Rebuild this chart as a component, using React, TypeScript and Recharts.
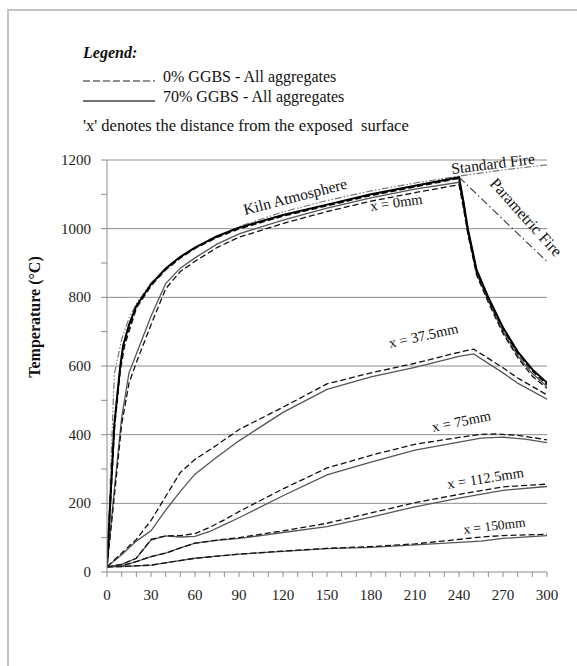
import React from 'react'
import { LineChart, Line, XAxis, YAxis, ReferenceLine } from 'recharts'

type Pt = { t: number; v: number }
const pts = (rows: number[][]): Pt[] => rows.map(([t, v]) => ({ t, v }))

// time (min) vs temperature (°C)
const KILN_70 = pts([
  [0, 20], [5, 430], [9, 598], [11, 660], [15, 720], [20, 775], [30, 838], [40, 884], [50, 918],
  [60, 945], [75, 978], [90, 1003], [120, 1040], [150, 1070], [180, 1100], [210, 1125], [240, 1150],
  [243, 1080], [246, 1000], [252, 880], [260, 800], [270, 712], [280, 642], [290, 590], [300, 551],
])
const KILN_0 = pts([
  [0, 20], [5, 420], [9, 590], [12, 662], [20, 770], [30, 834], [40, 881], [50, 915],
  [60, 943], [75, 975], [90, 1000], [120, 1037], [150, 1067], [180, 1097], [210, 1122], [240, 1147],
  [243, 1075], [246, 996], [252, 876], [260, 796], [270, 708], [280, 638], [290, 586], [300, 546],
])
const MM0_70 = pts([
  [0, 15], [5, 240], [10, 450], [15, 580], [20, 635], [30, 745], [40, 840], [50, 885], [60, 915],
  [75, 955], [90, 985], [120, 1025], [150, 1060], [180, 1090], [210, 1115], [240, 1135],
  [243, 1070], [246, 990], [252, 870], [260, 790], [270, 700], [280, 630], [290, 578], [300, 540],
])
const MM0_0 = pts([
  [0, 15], [5, 220], [10, 430], [15, 550], [20, 610], [30, 720], [40, 825], [50, 875], [60, 905],
  [75, 945], [90, 975], [120, 1015], [150, 1050], [180, 1080], [210, 1105], [240, 1128],
  [243, 1060], [246, 985], [252, 865], [260, 785], [270, 695], [280, 625], [290, 570], [300, 535],
])
const MM375_70 = pts([
  [0, 15], [10, 50], [20, 90], [30, 120], [40, 180], [50, 235], [60, 285], [75, 335], [90, 382],
  [120, 465], [150, 532], [180, 568], [210, 596], [240, 628], [250, 635], [270, 580], [280, 550], [300, 503],
])
const MM375_0 = pts([
  [0, 15], [10, 55], [20, 95], [30, 150], [40, 220], [50, 290], [60, 328], [75, 370], [90, 415],
  [120, 480], [150, 548], [180, 580], [210, 608], [240, 640], [250, 649], [270, 595], [280, 565], [300, 516],
])
const MM75_70 = pts([
  [0, 15], [10, 22], [20, 40], [30, 93], [40, 105], [50, 102], [60, 104], [70, 118], [80, 138],
  [90, 158], [120, 222], [150, 283], [180, 320], [210, 355], [240, 378], [255, 390], [270, 393],
  [285, 387], [300, 377],
])
const MM75_0 = pts([
  [0, 15], [10, 22], [20, 40], [30, 95], [40, 105], [50, 106], [60, 112], [70, 130], [80, 152],
  [90, 176], [120, 242], [150, 303], [180, 340], [210, 372], [240, 392], [255, 401], [265, 402],
  [280, 398], [300, 385],
])
const MM1125_70 = pts([
  [0, 15], [10, 18], [20, 30], [30, 45], [40, 55], [50, 70], [60, 84], [75, 92], [90, 98],
  [105, 106], [120, 115], [150, 132], [180, 160], [210, 190], [240, 215], [270, 238], [300, 249],
])
const MM1125_0 = pts([
  [0, 15], [10, 18], [20, 30], [30, 45], [40, 55], [50, 70], [60, 84], [75, 93], [90, 100],
  [105, 110], [120, 120], [150, 142], [180, 172], [210, 202], [240, 226], [270, 248], [300, 256],
])
const MM150_70 = pts([
  [0, 15], [10, 16], [20, 18], [30, 20], [45, 30], [60, 40], [75, 46], [90, 52], [120, 60],
  [150, 68], [180, 72], [210, 79], [240, 86], [255, 90], [270, 98], [300, 106],
])
const MM150_0 = pts([
  [0, 15], [10, 16], [20, 18], [30, 20], [45, 30], [60, 40], [75, 46], [90, 52], [120, 61],
  [150, 69], [180, 74], [210, 82], [240, 95], [255, 102], [270, 106], [300, 110],
])
const STANDARD_FIRE = pts([
  [0, 20], [5, 576], [10, 678], [15, 739], [20, 781], [30, 842], [45, 902], [60, 945], [90, 1006],
  [120, 1049], [150, 1082], [180, 1110], [210, 1133], [240, 1153], [270, 1171], [300, 1186],
])
const PARAMETRIC_FIRE = pts([[240, 1150], [300, 904]])

const X_TICKS = [0, 10, 20, 30, 40, 50, 60, 70, 80, 90, 100, 110, 120, 130, 140, 150, 160, 170, 180,
  190, 200, 210, 220, 230, 240, 250, 260, 270, 280, 290, 300]
const Y_TICKS = [0, 100, 200, 300, 400, 500, 600, 700, 800, 900, 1000, 1100, 1200]
const GRID_Y = [200, 400, 600, 800, 1000, 1200]

const FONT = '"Liberation Serif", "Times New Roman", serif'
const AXIS = '#8c8c8c'
const DASH = '6 3'

const XTick = (props: any) => {
  const { x, y, payload } = props
  if (payload.value % 30 !== 0) return <g />
  return (
    <text x={x} y={y + 21} textAnchor="middle" style={{ fontFamily: FONT, fontSize: 15 }} fill="#222">
      {payload.value}
    </text>
  )
}
const YTick = (props: any) => {
  const { x, y, payload } = props
  if (payload.value % 200 !== 0) return <g />
  return (
    <text x={x - 8} y={y + 5} textAnchor="end" style={{ fontFamily: FONT, fontSize: 15 }} fill="#222">
      {payload.value}
    </text>
  )
}

const series = [
  { key: 'sf', data: STANDARD_FIRE, stroke: '#777', w: 1.2, dash: '7 2 1.5 2 1.5 2' },
  { key: 'pf', data: PARAMETRIC_FIRE, stroke: '#333', w: 1.1, dash: '8 3 1.5 3' },
  { key: 'm150s', data: MM150_70, stroke: '#555', w: 1.3, dash: undefined },
  { key: 'm150d', data: MM150_0, stroke: '#111', w: 1.3, dash: DASH },
  { key: 'm112s', data: MM1125_70, stroke: '#555', w: 1.3, dash: undefined },
  { key: 'm112d', data: MM1125_0, stroke: '#111', w: 1.3, dash: DASH },
  { key: 'm75s', data: MM75_70, stroke: '#555', w: 1.3, dash: undefined },
  { key: 'm75d', data: MM75_0, stroke: '#111', w: 1.3, dash: DASH },
  { key: 'm37s', data: MM375_70, stroke: '#555', w: 1.3, dash: undefined },
  { key: 'm37d', data: MM375_0, stroke: '#111', w: 1.3, dash: DASH },
  { key: 'm0s', data: MM0_70, stroke: '#555', w: 1.3, dash: undefined },
  { key: 'm0d', data: MM0_0, stroke: '#111', w: 1.3, dash: DASH },
  { key: 'k0', data: KILN_0, stroke: '#111', w: 1.8, dash: DASH },
  { key: 'k70', data: KILN_70, stroke: '#000', w: 2, dash: undefined },
]

// annotation text: [label, x, y, angle, size]
const NOTES: [string, number, number, number, number][] = [
  ['Kiln Atmosphere', 245, 215, -14.5, 15.5],
  ['x = 0mm', 371, 211, -8, 14.5],
  ['Standard Fire', 452, 174, -7, 15.5],
  ['x = 37.5mm', 390, 348, -12.5, 14.5],
  ['x = 75mm', 433, 432, -11.5, 14.5],
  ['x = 112.5mm', 448, 489, -9, 14.5],
  ['x = 150mm', 464, 534, -7, 13.5],
  ['Parametric Fire', 489, 184, 48, 16],
]

export default function App() {
  return (
    <div style={{ position: 'absolute', left: 0, top: 0, width: 577, height: 666, overflow: 'hidden', background: '#fff' }}>
      <div style={{ position: 'absolute', left: 7, top: 9, width: 700, height: 800, borderLeft: '2px solid #c4c4c4', borderTop: '2px solid #c4c4c4' }} />
      <div style={{ position: 'absolute', left: 0, top: 0 }}>
        <LineChart width={577} height={666} margin={{ top: 160, right: 30, bottom: 64, left: 0 }}>
          <XAxis
            dataKey="t" type="number" domain={[0, 300]} ticks={X_TICKS} interval={0}
            height={30} tickSize={5} tickMargin={2} stroke={AXIS} tick={<XTick />} allowDataOverflow
          />
          <YAxis
            dataKey="v" type="number" domain={[0, 1200]} ticks={Y_TICKS} interval={0}
            width={107} tickSize={6} tickMargin={2} stroke={AXIS} tick={<YTick />}
          />
          {GRID_Y.map((g) => (
            <ReferenceLine key={g} y={g} stroke={AXIS} strokeWidth={1} />
          ))}
          {series.map((s) => (
            <Line
              key={s.key} data={s.data} dataKey="v" type="linear" dot={false}
              stroke={s.stroke} strokeWidth={s.w} strokeDasharray={s.dash}
              isAnimationActive={false} legendType="none"
            />
          ))}
        </LineChart>
      </div>
      <svg width={577} height={666} style={{ position: 'absolute', left: 0, top: 0, pointerEvents: 'none', fontFamily: FONT }} fill="#111">
        <text x={83} y={58} fontSize={16} fontWeight="bold" fontStyle="italic">Legend:</text>
        <line x1={83} y1={81} x2={155} y2={81} stroke="#222" strokeWidth={1.2} strokeDasharray="7 3" />
        <text x={163} y={82} fontSize={16}>0% GGBS - All aggregates</text>
        <line x1={83} y1={101} x2={155} y2={101} stroke="#444" strokeWidth={1.3} />
        <text x={163} y={102} fontSize={16}>70% GGBS - All aggregates</text>
        <text x={83} y={131} fontSize={16.5} style={{ whiteSpace: 'pre' }}>{"'x' denotes the distance from the exposed  surface"}</text>
        {NOTES.map(([label, x, y, a, size]) => (
          <text key={label} x={x} y={y} fontSize={size} transform={`rotate(${a} ${x} ${y})`}>{label}</text>
        ))}
        <text x={0} y={0} fontSize={16} fontWeight="bold" textAnchor="middle" transform="translate(40 317) rotate(-90)">
          Temperature (°C)
        </text>
      </svg>
    </div>
  )
}
